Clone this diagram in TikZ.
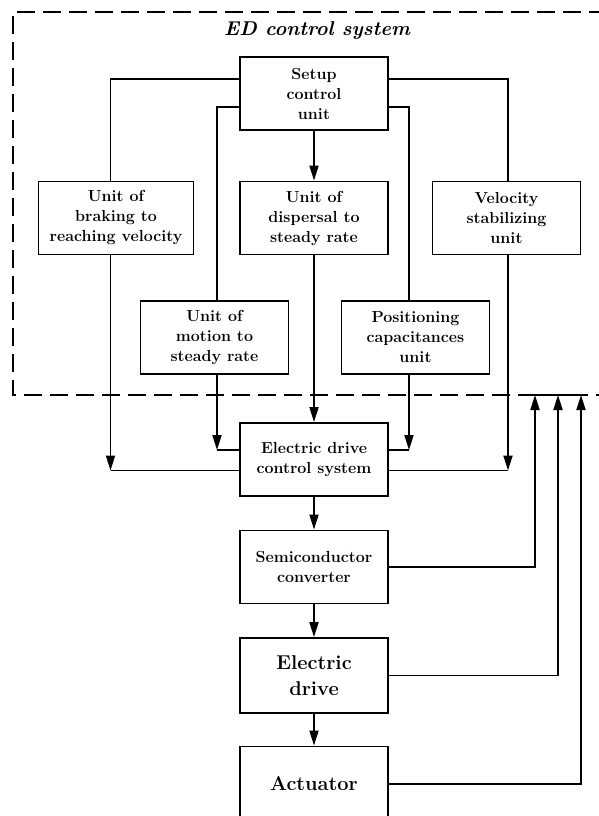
\documentclass[tikz,border=0pt]{standalone}
\usepackage{fontspec}
\usepackage{tikz}
\usetikzlibrary{arrows.meta,positioning}
\tikzset{block/.style={draw, line width=1.9pt, minimum width=148pt, minimum height=73pt,
    align=center, inner sep=0pt, font=\bfseries\fontsize{16}{20}\selectfont},
  big block/.style={block, minimum height=75pt, font=\bfseries\fontsize{20}{26}\selectfont},
  link/.style={line width=1.9pt}
}

\begin{document}
\begin{tikzpicture}[x=1pt, y=-1pt, on grid, >={Triangle[length=15pt,width=9pt]}]
        \useasboundingbox (0,0) rectangle (598,816);

        % frame of the control system
        \draw[line width=2.3pt, dash pattern=on 18pt off 8pt] (640,395) -| (13,12) -- (640,12);
        \node[font=\bfseries\itshape\fontsize{20}{24}\selectfont] (title) at (317,31) {ED control system};

        \node[block]            (setup)  at (314,93.5)                        {Setup\\control\\unit};
        \node[block]            (disp)   [below=124.5pt of setup]             {Unit of\\dispersal to\\steady rate};
        \node[block,minimum width=155pt] (brake) [left=198pt of disp]         {Unit of\\braking to\\reaching velocity};
        \node[block]            (velo)   [right=192.5pt of disp]              {Velocity\\stabilizing\\unit};
        \node[block]            (motion) [below left=119.5pt and 99.5pt of disp]  {Unit of\\motion to\\steady rate};
        \node[block]            (posit)  [below right=119.5pt and 101.5pt of disp] {Positioning\\capacitances\\unit};
        \node[block]            (ecs)    [below=241.5pt of disp]              {Electric drive\\control system};
        \node[block]            (semi)   [below=107.5pt of ecs]               {Semiconductor\\converter};
        \node[big block]        (drive)  [below=108.5pt of semi]              {Electric\\drive};
        \node[big block]        (act)    [below=108.5pt of drive]             {Actuator};

        % columns and rows of the connectors
        \coordinate (colA) at (110.5,0);
        \coordinate (colB) at (217,0);
        \coordinate (colD) at (409,0);
        \coordinate (colE) at (508,0);
        \coordinate (rowA) at (0,79);
        \coordinate (rowB) at (0,107);
        \coordinate (rowC) at (0,450);
        \coordinate (rowD) at (0,470.5);
        \coordinate (bus)  at (0,395);
        \coordinate (fbA)  at (535,0);
        \coordinate (fbB)  at (558,0);
        \coordinate (fbC)  at (581,0);

        \draw[link] (setup.west |- rowA) -| (colA |- brake.north);
        \draw[link] (setup.east |- rowA) -| (colE |- velo.north);
        \draw[link] (setup.west |- rowB) -| (colB |- motion.north);
        \draw[link] (setup.east |- rowB) -| (colD |- posit.north);
        \draw[link,->] (setup) -- (disp);
        \draw[link,->] (disp) -- (ecs);

        \draw[link,->] (colA |- brake.south)  -- (colA |- rowD);
        \draw[link]    (colA |- rowD)         -- (ecs.west |- rowD);
        \draw[link,->] (colB |- motion.south) -- (colB |- rowC);
        \draw[link]    (colB |- rowC)         -- (ecs.west |- rowC);
        \draw[link,->] (colD |- posit.south)  -- (colD |- rowC);
        \draw[link]    (colD |- rowC)         -- (ecs.east |- rowC);
        \draw[link,->] (colE |- velo.south)   -- (colE |- rowD);
        \draw[link]    (colE |- rowD)         -- (ecs.east |- rowD);

        \draw[link,->] (ecs) -- (semi);
        \draw[link,->] (semi) -- (drive);
        \draw[link,->] (drive) -- (act);

        % feedback
        \draw[link,->] (semi.east)  -| (fbA |- bus);
        \draw[link,->] (drive.east) -| (fbB |- bus);
        \draw[link,->] (act.east)   -| (fbC |- bus);
        \draw[link] (fbA |- bus) -- (fbC |- bus);
\end{tikzpicture}
\end{document}
